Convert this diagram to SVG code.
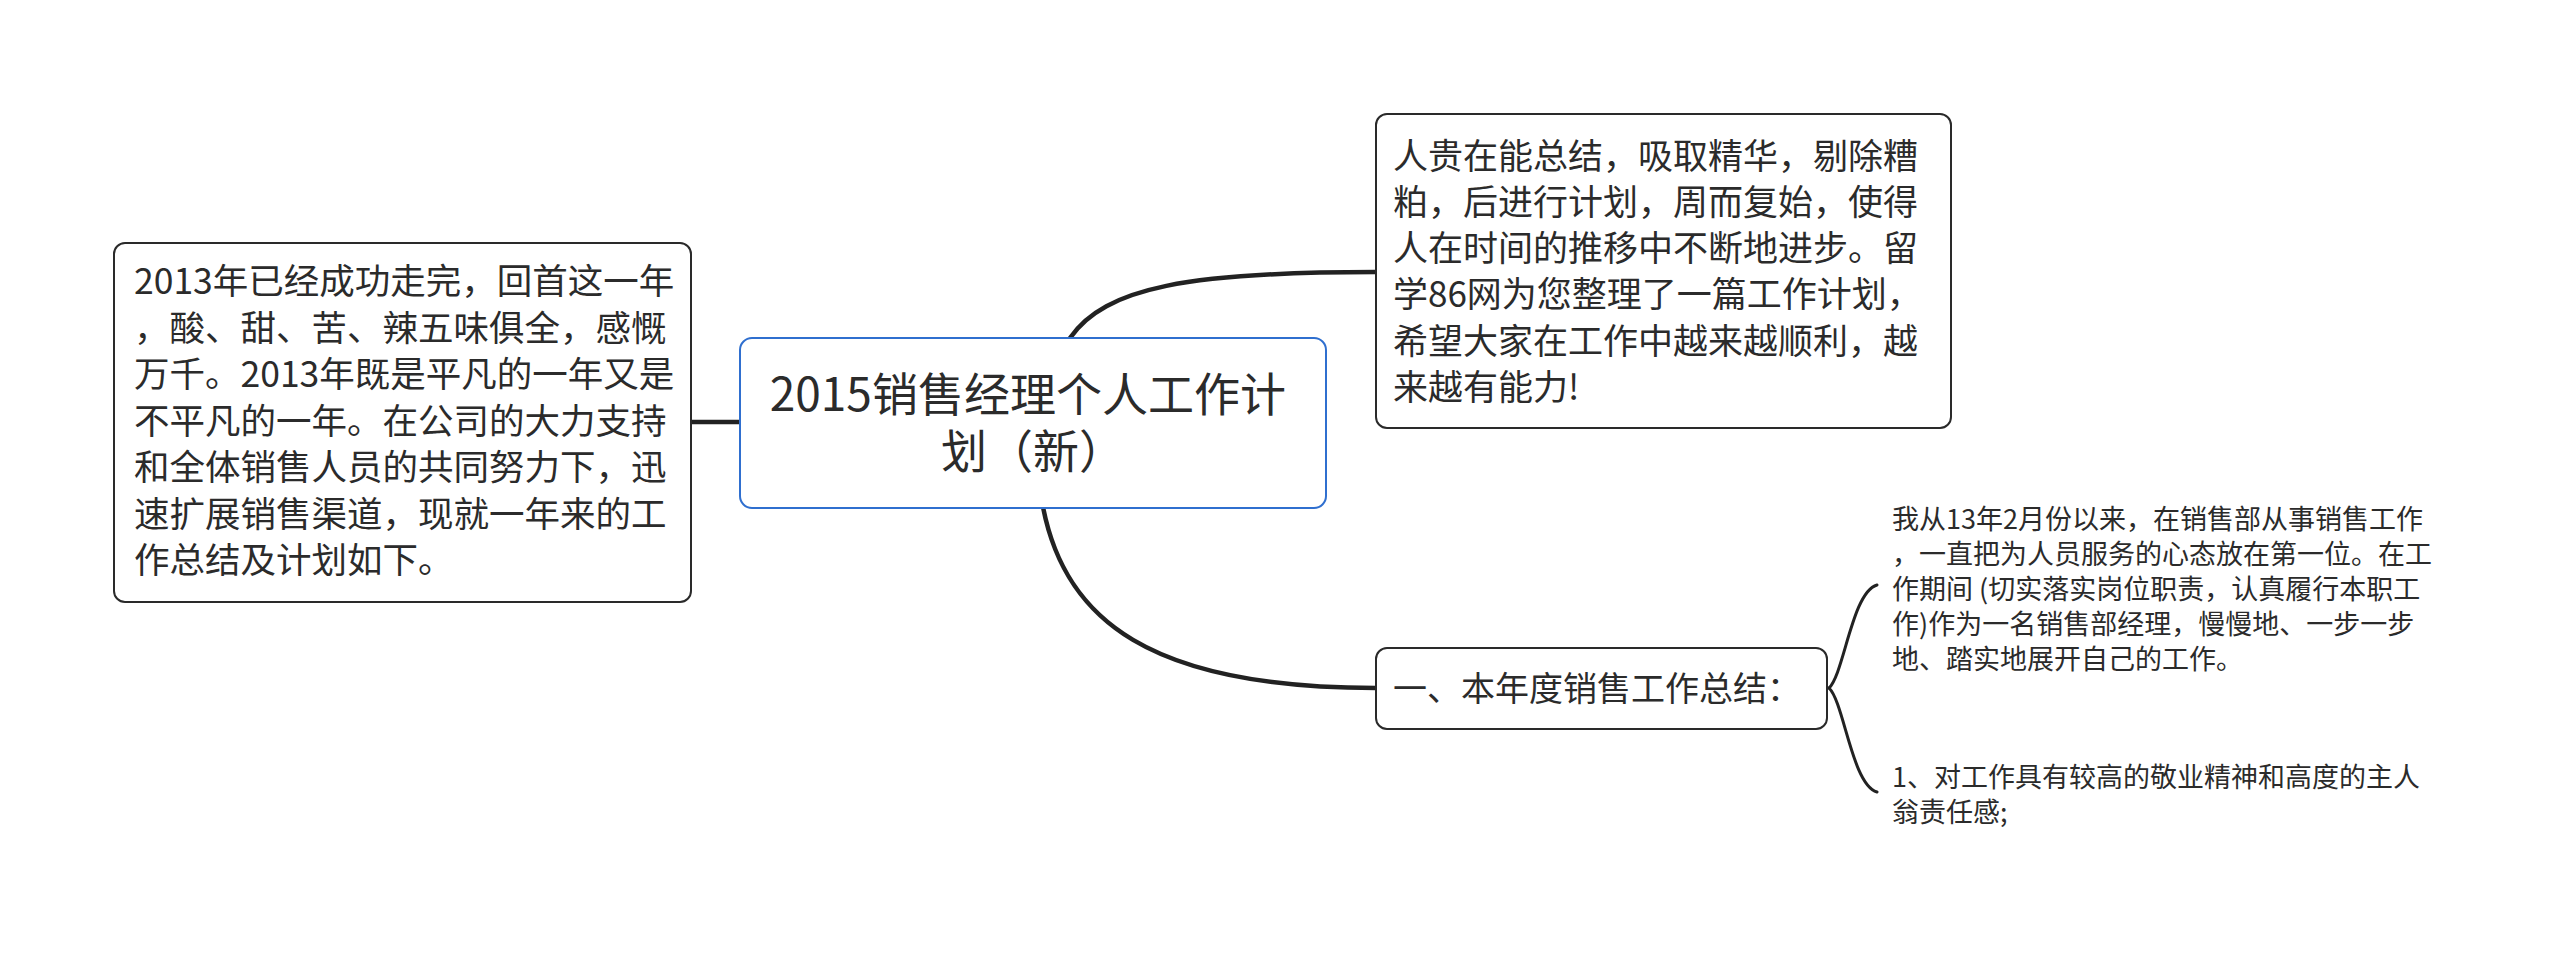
<svg xmlns="http://www.w3.org/2000/svg" width="2560" height="956" viewBox="0 0 2560 956">
<style>
.box{fill:#ffffff;stroke:#2a2a2a;stroke-width:2}
.root{fill:#ffffff;stroke:#2f6fcf;stroke-width:2}
.t{font-family:"Noto Sans CJK SC","Noto Sans",sans-serif;fill:#2b2b2b}
.main{fill:none;stroke:#222222;stroke-width:4.5;stroke-linecap:round}
.sub{fill:none;stroke:#222222;stroke-width:3;stroke-linecap:round}
</style>
<rect width="2560" height="956" fill="#ffffff"/>
<g id="connectors">
<path class="main" d="M691,422 L740,422"/>
<path class="main" d="M1070,338 C1105,287 1190,272 1376,272"/>
<path class="main" d="M1043,507 C1065,620 1150,688 1376,688"/>
<path class="sub" d="M1829,688 C1844,674 1852,592 1877,585"/>
<path class="sub" d="M1829,688 C1844,702 1852,785 1877,792"/>
</g>
<g id="node-left">
<rect class="box" x="114" y="243" width="577" height="359" rx="11"/>
<text class="t" font-size="35.5" x="134">
<tspan x="134" y="294">2013年已经成功走完，回首这一年</tspan>
<tspan x="134" y="341">，酸、甜、苦、辣五味俱全，感慨</tspan>
<tspan x="134" y="387">万千。2013年既是平凡的一年又是</tspan>
<tspan x="134" y="434">不平凡的一年。在公司的大力支持</tspan>
<tspan x="134" y="480">和全体销售人员的共同努力下，迅</tspan>
<tspan x="134" y="527">速扩展销售渠道，现就一年来的工</tspan>
<tspan x="134" y="573">作总结及计划如下。</tspan>
</text>
</g>
<g id="node-root">
<rect class="root" x="740" y="338" width="586" height="170" rx="12"/>
<text class="t" font-size="46" text-anchor="middle">
<tspan x="1033" y="411">2015销售经理个人工作计</tspan>
<tspan x="1033" y="468">划（新）</tspan>
</text>
</g>
<g id="node-top-right">
<rect class="box" x="1376" y="114" width="575" height="314" rx="11"/>
<text class="t" font-size="35">
<tspan x="1393" y="169">人贵在能总结，吸取精华，剔除糟</tspan>
<tspan x="1393" y="215">粕，后进行计划，周而复始，使得</tspan>
<tspan x="1393" y="261">人在时间的推移中不断地进步。留</tspan>
<tspan x="1393" y="307">学86网为您整理了一篇工作计划，</tspan>
<tspan x="1393" y="354">希望大家在工作中越来越顺利，越</tspan>
<tspan x="1393" y="400">来越有能力!</tspan>
</text>
</g>
<g id="node-summary">
<rect class="box" x="1376" y="648" width="451" height="81" rx="11"/>
<text class="t" font-size="34" x="1393" y="701">一、本年度销售工作总结：</text>
</g>
<g id="leaf-1">
<text class="t" font-size="27">
<tspan x="1892" y="529">我从13年2月份以来，在销售部从事销售工作</tspan>
<tspan x="1892" y="564">，一直把为人员服务的心态放在第一位。在工</tspan>
<tspan x="1892" y="599">作期间 (切实落实岗位职责，认真履行本职工</tspan>
<tspan x="1892" y="634">作)作为一名销售部经理，慢慢地、一步一步</tspan>
<tspan x="1892" y="669">地、踏实地展开自己的工作。</tspan>
</text>
</g>
<g id="leaf-2">
<text class="t" font-size="27">
<tspan x="1892" y="787">1、对工作具有较高的敬业精神和高度的主人</tspan>
<tspan x="1892" y="822">翁责任感;</tspan>
</text>
</g>
</svg>
